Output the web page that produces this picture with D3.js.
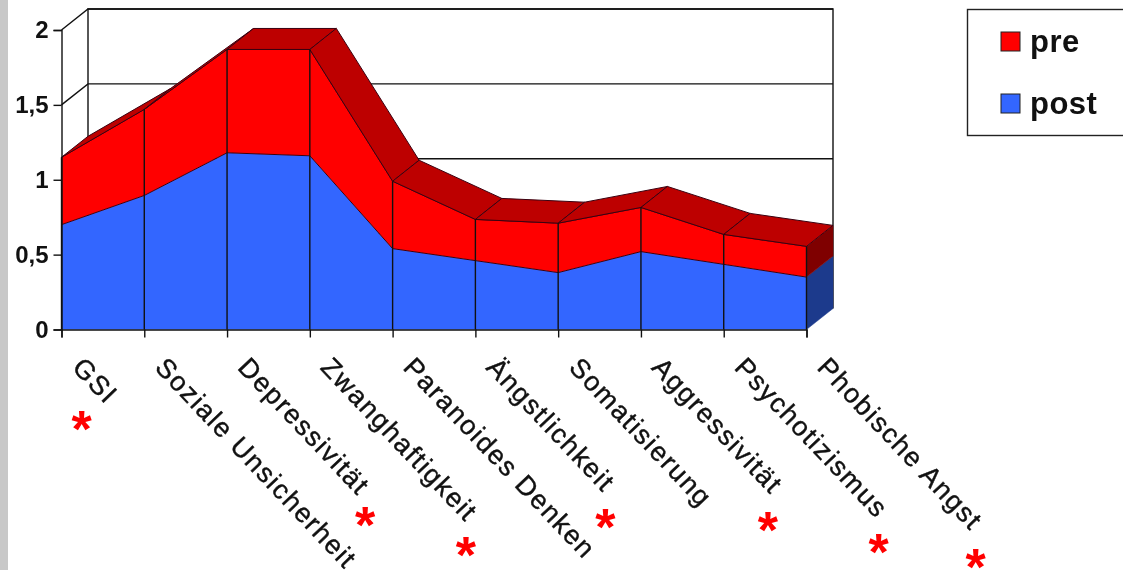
<!DOCTYPE html>
<html>
<head>
<meta charset="utf-8">
<script src="https://cdn.jsdelivr.net/npm/d3@7"></script>
<style>
  html, body { margin: 0; padding: 0; background: #fff; overflow: hidden; }
  svg { display: block; filter: blur(0.45px); }
  text { font-family: "Liberation Sans", Arial, sans-serif; fill: #111; }
</style>
</head>
<body>
<div id="chart"></div>
<script>
const categories = ['GSI', 'Soziale Unsicherheit', 'Depressivität', 'Zwanghaftigkeit', 'Paranoides Denken', 'Ängstlichkeit', 'Somatisierung', 'Aggressivität', 'Psychotizismus', 'Phobische Angst']
const post = [0.7, 0.895, 1.18, 1.16, 0.54, 0.46, 0.38, 0.52, 0.435, 0.35]
const pre = [0.45, 0.575, 0.69, 0.71, 0.45, 0.275, 0.33, 0.295, 0.2, 0.205]
const yTicks = [0, 0.5, 1, 1.5, 2]
const seriesNames = ['post', 'pre']
const legendNames = ['pre', 'post']
const starred = ['GSI', 'Depressivität', 'Zwanghaftigkeit', 'Ängstlichkeit', 'Aggressivität', 'Psychotizismus', 'Phobische Angst']

const width = 1123
const height = 570
const depthX = 26.5
const depthY = -21
const wallTop = 9

const colors = { pre: '#ff0000', post: '#3366ff' }
const sideColors = { pre: '#7f0000', post: '#1c3a8c' }
const roofColor = '#bd0000'
const edgeColor = '#3a0010'

// star offsets from the tick of each label, they sit wherever the original slide had them
const starOffset = {
  GSI: [20, 117],
  Depressivität: [138, 213],
  Zwanghaftigkeit: [156, 243],
  Ängstlichkeit: [130, 215],
  Aggressivität: [127, 218],
  Psychotizismus: [155, 240],
  'Phobische Angst': [169, 255],
}

const svg = d3.select('#chart').append('svg').attr('width', width).attr('height', height)

svg.append('rect').attr('width', 8).attr('height', height).attr('fill', '#c8c8c8')

const xScale = d3.scalePoint().domain(categories).range([61.5, 806.5])
const yScale = d3.scaleLinear().domain([0, 2]).range([329.5, 30])

const rows = categories.map((c, i) => ({ category: c, post: post[i], pre: pre[i] }))
const stacked = d3.stack().keys(seriesNames)(rows)

const back = pt => [pt[0] + depthX, pt[1] + depthY]
const polyLine = d3.line()

// back wall + left wall with gridlines
const x0 = xScale.range()[0]
const x1 = xScale.range()[1]
const wall = svg.append('g').attr('class', 'walls').attr('fill', 'none').attr('stroke', '#111').attr('stroke-width', 1.4)

wall
  .append('path')
  .attr('d', polyLine([[x0 + depthX, yScale(0) + depthY], [x0 + depthX, wallTop], [x1 + depthX, wallTop], [x1 + depthX, yScale(0) + depthY]]))

wall
  .selectAll('.grid')
  .data(yTicks.slice(1))
  .join('path')
  .attr('class', 'grid')
  .attr('d', d => polyLine([[x0, yScale(d)], back([x0, yScale(d)]), back([x1, yScale(d)])]))

// stacked areas, post first
const area = d3
  .area()
  .x((d, i) => xScale(categories[i]))
  .y0(d => yScale(d[0]))
  .y1(d => yScale(d[1]))

const bands = svg.append('g').attr('class', 'bands')

stacked.forEach(layer => {
  const name = layer.key
  const lastPoint = layer[layer.length - 1]

  // right hand side of the band
  bands
    .append('path')
    .attr('d', polyLine([
      [x1, yScale(lastPoint[0])],
      [x1, yScale(lastPoint[1])],
      back([x1, yScale(lastPoint[1])]),
      back([x1, yScale(lastPoint[0])]),
    ]) + 'Z')
    .attr('fill', sideColors[name])
    .attr('stroke', sideColors[name])
    .attr('stroke-width', 0.5)

  bands
    .append('path')
    .attr('d', area(layer))
    .attr('fill', colors[name])
    .attr('stroke', name === 'pre' ? edgeColor : 'none')
    .attr('stroke-width', 1)
})

// roof facets of the top band
const topLayer = stacked[stacked.length - 1]
svg
  .append('g')
  .attr('class', 'roof')
  .selectAll('path')
  .data(d3.pairs(d3.range(categories.length)))
  .join('path')
  .attr('d', ([a, b]) => {
    const p = [xScale(categories[a]), yScale(topLayer[a][1])]
    const q = [xScale(categories[b]), yScale(topLayer[b][1])]
    return polyLine([p, q, back(q), back(p)]) + 'Z'
  })
  .attr('fill', roofColor)
  .attr('stroke', edgeColor)
  .attr('stroke-width', 1)

// dividers at every category
svg
  .append('g')
  .attr('class', 'dividers')
  .selectAll('line')
  .data(categories)
  .join('line')
  .attr('x1', d => xScale(d))
  .attr('x2', d => xScale(d))
  .attr('y1', yScale(0))
  .attr('y2', (d, i) => yScale(topLayer[i][1]))
  .attr('stroke', '#111')
  .attr('stroke-width', 1.4)

const yAxis = svg
  .append('g')
  .attr('transform', `translate(${x0},0)`)
  .call(
    d3
      .axisLeft(yScale)
      .tickValues(yTicks)
      .tickSize(8)
      .tickPadding(5)
      .tickFormat(d => String(d).replace('.', ',')),
  )
yAxis.select('.domain').attr('stroke', '#111').attr('stroke-width', 1.4)
yAxis.selectAll('.tick line').attr('stroke', '#111').attr('stroke-width', 1.4)
yAxis.selectAll('text').attr('font-size', 24).attr('font-weight', 700).attr('font-family', '"Liberation Sans"').attr('fill', '#111')

const xAxis = svg
  .append('g')
  .attr('transform', `translate(0,${yScale(0)})`)
  .call(d3.axisBottom(xScale).tickSize(8).tickPadding(0))
xAxis.select('.domain').attr('stroke', '#111').attr('stroke-width', 1.4)
xAxis.selectAll('.tick line').attr('stroke', '#111').attr('stroke-width', 1.4)
xAxis
  .selectAll('text')
  .attr('font-size', 27)
  .attr('letter-spacing', 1.6)
  .attr('font-family', '"Liberation Sans"')
  .attr('fill', '#111')
  .attr('stroke', '#111')
  .attr('stroke-width', 0.4)
  .attr('text-anchor', 'start')
  .attr('dy', 0)
  .attr('y', 0)
  .attr('transform', 'translate(9,39) rotate(46.5)')

// significance stars
svg
  .append('g')
  .attr('class', 'stars')
  .selectAll('text')
  .data(starred)
  .join('text')
  .attr('x', d => xScale(d) + starOffset[d][0])
  .attr('y', d => yScale(0) + starOffset[d][1])
  .attr('text-anchor', 'middle')
  .attr('font-size', 52)
  .attr('font-weight', 700)
  .style('fill', '#ff0000')
  .text('*')

// legend runs off the right edge like in the original
const legend = svg.append('g').attr('class', 'legend')
legend
  .append('rect')
  .attr('x', 967.5)
  .attr('y', 9.5)
  .attr('width', 170)
  .attr('height', 126)
  .attr('fill', '#fff')
  .attr('stroke', '#222')
  .attr('stroke-width', 1.4)

const legendY = d3.scalePoint().domain(legendNames).range([42, 104])
legend
  .selectAll('rect.key')
  .data(legendNames)
  .join('rect')
  .attr('class', 'key')
  .attr('x', 1001)
  .attr('y', d => legendY(d) - 10)
  .attr('width', 19)
  .attr('height', 19)
  .attr('fill', d => colors[d])
  .attr('stroke', '#222')

legend
  .selectAll('text')
  .data(legendNames)
  .join('text')
  .attr('x', 1030)
  .attr('y', d => legendY(d) + 10)
  .attr('font-size', 31)
  .attr('font-weight', 700)
  .attr('letter-spacing', 0.5)
  .text(d => d)
</script>
</body>
</html>
